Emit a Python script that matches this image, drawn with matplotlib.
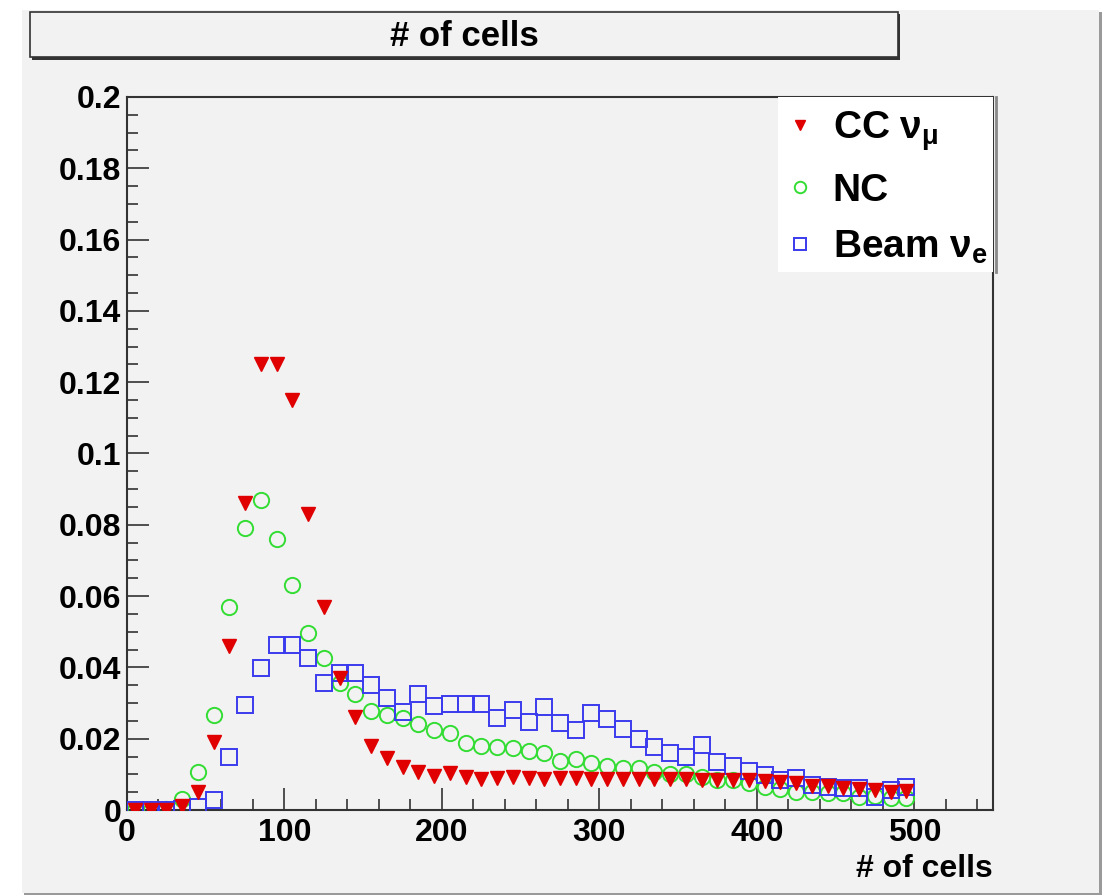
import matplotlib
matplotlib.use("Agg")
import matplotlib.pyplot as plt
from matplotlib.patches import Rectangle
from matplotlib.ticker import MultipleLocator, FormatStrFormatter
import numpy as np

plt.rcParams["font.family"] = ["Liberation Sans", "DejaVu Sans"]
plt.rcParams["font.weight"] = "bold"
plt.rcParams["mathtext.fontset"] = "custom"
plt.rcParams["mathtext.rm"] = "Liberation Sans:bold"
plt.rcParams["mathtext.it"] = "Liberation Sans"
plt.rcParams["mathtext.bf"] = "Liberation Sans:bold"

# 50 bins of 10 cells, 0..500
bin_edges = np.arange(0, 510, 10)
bin_centers = bin_edges[:-1] + 5

cc_numu = [0.0, 0.0, 0.0, 0.001, 0.005, 0.019, 0.046, 0.086, 0.125, 0.125,
           0.115, 0.083, 0.057, 0.037, 0.026, 0.018, 0.0145, 0.012, 0.0107, 0.0095,
           0.0104, 0.0093, 0.0088, 0.009, 0.0093, 0.009, 0.0087, 0.009, 0.009, 0.0088,
           0.0087, 0.0088, 0.0087, 0.0088, 0.0087, 0.0086, 0.0085, 0.0085, 0.0084, 0.0083,
           0.0082, 0.0078, 0.0075, 0.0068, 0.0066, 0.0063, 0.006, 0.0055, 0.005, 0.0052]

nc = [0.0, 0.0, 0.0003, 0.003, 0.0106, 0.0266, 0.057, 0.0792, 0.087, 0.076,
      0.063, 0.0496, 0.0425, 0.0355, 0.0325, 0.0278, 0.0266, 0.0258, 0.024, 0.0224,
      0.0215, 0.0189, 0.018, 0.0178, 0.0175, 0.0165, 0.016, 0.0137, 0.0142, 0.0133,
      0.0124, 0.0118, 0.0118, 0.0107, 0.010, 0.010, 0.0093, 0.0084, 0.0084, 0.0075,
      0.0065, 0.006, 0.0051, 0.0051, 0.0047, 0.0047, 0.0037, 0.004, 0.0033, 0.0033]

beam_nue = [0.0, 0.0, 0.0, 0.0002, 0.0009, 0.0028, 0.015, 0.0295, 0.0397, 0.0463,
            0.0462, 0.0425, 0.0355, 0.0383, 0.0383, 0.035, 0.0313, 0.0276, 0.0325, 0.0292,
            0.0297, 0.0297, 0.0297, 0.0257, 0.028, 0.0248, 0.0288, 0.0245, 0.0224, 0.0271,
            0.0254, 0.0228, 0.0199, 0.0178, 0.0159, 0.015, 0.0182, 0.0135, 0.0123, 0.011,
            0.0098, 0.0084, 0.0089, 0.007, 0.0065, 0.0061, 0.0061, 0.0037, 0.0056, 0.0065]

labels = [r"CC $\nu_{\mu}$", "NC", r"Beam $\nu_{e}$"]
bg = "#f2f2f2"

W, H = 1108, 896
fig = plt.figure(figsize=(W / 100, H / 100), dpi=100, facecolor="white")

# canvas with shadow
fig.patches.append(Rectangle((24 / W, 1 - 895 / H), 1078 / W, 883 / H,
                             transform=fig.transFigure, facecolor="#9a9a9a",
                             edgecolor="none", zorder=-2))
fig.patches.append(Rectangle((22 / W, 1 - 893 / H), 1077 / W, 883 / H,
                             transform=fig.transFigure, facecolor=bg,
                             edgecolor="none", zorder=-1))

# title pave
fig.patches.append(Rectangle((32 / W, 1 - 60 / H), 868 / W, 46 / H,
                             transform=fig.transFigure, facecolor="#333333",
                             edgecolor="none", zorder=1))
fig.patches.append(Rectangle((30 / W, 1 - 57 / H), 868 / W, 45 / H,
                             transform=fig.transFigure, facecolor=bg,
                             edgecolor="#333333", lw=1.2, zorder=2))
fig.text(464 / W, 1 - 37 / H, "# of cells", ha="center", va="center",
         fontsize=25, fontweight="bold", zorder=3)

ax = fig.add_axes([127 / W, 1 - 810 / H, 866 / W, 713 / H])
ax.set_zorder(5)
ax.set_facecolor(bg)

h_nc, = ax.plot(bin_centers, nc, "o", ms=11, mfc="none", mec="#33dd33",
                mew=1.4, label=labels[1], zorder=3)
h_be, = ax.plot(bin_centers, beam_nue, "s", ms=11, mfc="none", mec="#3a3aee",
                mew=1.4, label=labels[2], zorder=4)
h_cc, = ax.plot(bin_centers, cc_numu, "v", ms=10, mfc="#e00000", mec="#e00000",
                label=labels[0], zorder=5)

ax.set_xlim(0, 550)
ax.set_ylim(0, 0.2)
ax.xaxis.set_major_locator(MultipleLocator(100))
ax.xaxis.set_minor_locator(MultipleLocator(20))
ax.yaxis.set_major_locator(MultipleLocator(0.02))
ax.yaxis.set_minor_locator(MultipleLocator(0.005))
ax.yaxis.set_major_formatter(FormatStrFormatter("%g"))

ax.tick_params(which="both", direction="in", top=False, right=False,
               color="#333333", labelsize=23)
ax.tick_params(which="major", length=16, width=1.2)
ax.tick_params(which="minor", length=8, width=1.2)
ax.tick_params(axis="x", pad=6)
ax.tick_params(axis="y", pad=4)
for lab in ax.get_xticklabels() + ax.get_yticklabels():
    lab.set_fontweight("bold")
for sp in ax.spines.values():
    sp.set_color("#333333")
    sp.set_linewidth(1.5)

ax.set_xlabel("# of cells", fontsize=23, fontweight="bold", loc="right", labelpad=4)

# legend box
lx0 = (778 - 127) / 866
ly0 = (810 - 272) / 713
ax.add_patch(Rectangle((lx0, ly0), 1 - lx0, 1 - ly0, transform=ax.transAxes,
                       facecolor="white", edgecolor="none", zorder=6, clip_on=False))
ax.plot([1.003, 1.003], [ly0, 1.0], transform=ax.transAxes, color="#888888",
        lw=2, zorder=7, clip_on=False)

leg = ax.legend([h_cc, h_nc, h_be], labels,
                loc="upper left", bbox_to_anchor=(lx0 - 0.02, 1.015), frameon=False,
                fontsize=28, handlelength=0.8, handletextpad=0.45, labelspacing=0.5,
                borderaxespad=0.2, markerscale=0.75)
leg.set_zorder(8)
for t in leg.get_texts():
    t.set_fontweight("bold")

fig.savefig("out.png", dpi=100, facecolor="white")
